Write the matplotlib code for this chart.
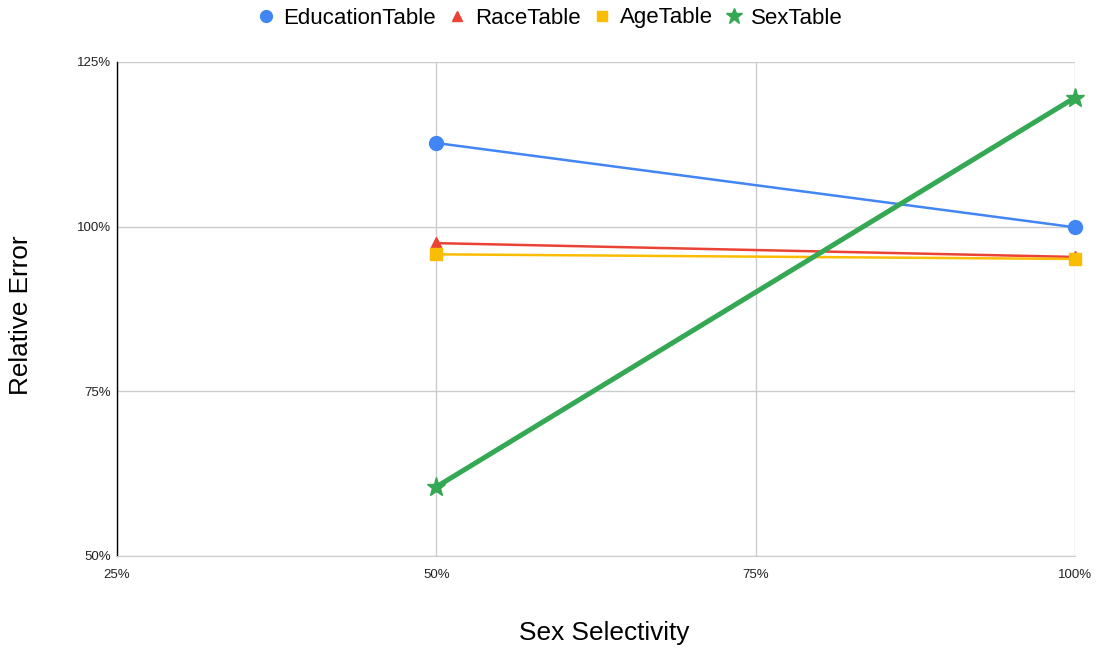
import matplotlib
matplotlib.use("Agg")
import matplotlib.pyplot as plt
from matplotlib.ticker import FuncFormatter

plt.rcParams['font.family'] = ['Liberation Sans', 'DejaVu Sans']

selectivity = [50, 100]
education = [112.7, 99.9]
race = [97.5, 95.4]
age = [95.8, 95.1]
sex = [60.5, 119.6]

x_ticks = [25, 50, 75, 100]
y_ticks = [50, 75, 100, 125]

W, H = 1099, 654
fig = plt.figure(figsize=(W / 100, H / 100), dpi=100)
ax = fig.add_axes([117 / W, 1 - 556 / H, (1075 - 117) / W, (556 - 62) / H])

ax.plot(selectivity, education, color='#4285F4', lw=1.8, marker='o', ms=10,
        label='EducationTable', zorder=4)
ax.plot(selectivity, race, color='#EA4335', lw=1.8, marker='^', ms=8,
        label='RaceTable', zorder=3)
ax.plot(selectivity, age, color='#FBBC04', lw=1.8, marker='s', ms=8,
        label='AgeTable', zorder=3)
ax.plot(selectivity, sex, color='#34A853', lw=3.6, marker='*', ms=14,
        label='SexTable', zorder=5)

ax.set_xlim(25, 100)
ax.set_ylim(50, 125)
ax.set_xticks(x_ticks)
ax.set_yticks(y_ticks)
pct = FuncFormatter(lambda v, p: f"{v:.0f}%")
ax.xaxis.set_major_formatter(pct)
ax.yaxis.set_major_formatter(pct)
ax.tick_params(length=0, labelsize=9.5, colors='#222222')
ax.tick_params(axis='x', pad=9)
ax.tick_params(axis='y', pad=4.5)
ax.grid(True, color='#CCCCCC', lw=1)
ax.set_axisbelow(True)
for s in ['top', 'right']:
    ax.spines[s].set_visible(False)
ax.spines['left'].set_color('#000000')
ax.spines['left'].set_linewidth(1)
ax.spines['bottom'].set_color('#CCCCCC')
for line in ax.lines:
    line.set_clip_on(False)

fig.text(604 / W, 1 - 633 / H, 'Sex Selectivity', fontsize=18.9, color='#000000',
         ha='center', va='center')
fig.text(21 / W, 1 - 315 / H, 'Relative Error', fontsize=18.8, color='#000000',
         ha='center', va='center', rotation=90)

leg = fig.legend(loc='center', bbox_to_anchor=(550 / W, 1 - 18 / H), ncol=4, frameon=False,
                 fontsize=16, handlelength=0.8, handletextpad=0.4, columnspacing=0.55,
                 numpoints=1, markerscale=0.85)
for h in leg.legend_handles:
    h.set_linestyle('None')

fig.savefig('out.png', dpi=100)
